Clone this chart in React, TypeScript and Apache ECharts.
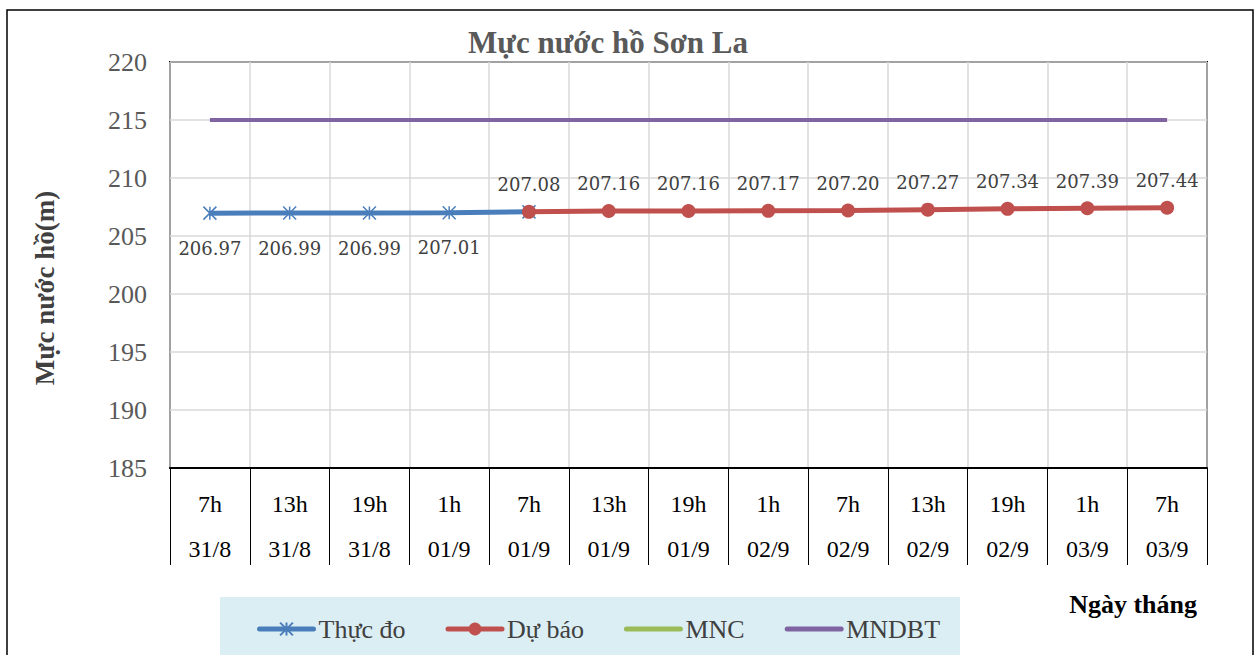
import React, { useEffect, useRef } from "react";
import * as echarts from "echarts";

const hours = ["7h", "13h", "19h", "1h", "7h", "13h", "19h", "1h", "7h", "13h", "19h", "1h", "7h"];
const dates = ["31/8", "31/8", "31/8", "01/9", "01/9", "01/9", "01/9", "02/9", "02/9", "02/9", "02/9", "03/9", "03/9"];
const thucDo = [206.97, 206.99, 206.99, 207.01, 207.08];
const duBao = [207.08, 207.16, 207.16, 207.17, 207.2, 207.27, 207.34, 207.39, 207.44];
const duBaoStart = 4;
const mnc = [175, 175, 175, 175, 175, 175, 175, 175, 175, 175, 175, 175, 175];
const mndbt = [215, 215, 215, 215, 215, 215, 215, 215, 215, 215, 215, 215, 215];

const FONT = "Liberation Serif";
const LABEL_FONT = "DejaVu Serif";
const starPath = "path://M0,0L10,10M10,0L0,10M5,0L5,10M0,0Z";

export default function App() {
  const ref = useRef<HTMLDivElement>(null);
  useEffect(() => {
    if (!ref.current) return;
    const chart = echarts.init(ref.current, null, { renderer: "svg" });
    const categories = hours.map((h, i) => h + "\n" + dates[i]);
    const thucDoData = thucDo.map((v, i) => ({
      value: v,
      label: { show: i < thucDo.length - 1 },
    }));
    const duBaoData = categories.map((_, i) =>
      i >= duBaoStart ? duBao[i - duBaoStart] : "-"
    );
    chart.setOption({
      animation: false,
      textStyle: { fontFamily: FONT },
      title: {
        text: "Mực nước hồ Sơn La",
        left: 603,
        textAlign: "center",
        top: 22,
        textStyle: { fontFamily: FONT, fontSize: 31, fontWeight: "bold", color: "#595959" },
      },
      grid: {
        left: 170,
        top: 62,
        right: 53,
        bottom: 187,
        show: true,
        borderColor: "#000",
        borderWidth: 2,
        containLabel: false,
      },
      legend: {
        left: 252,
        top: 611,
        itemWidth: 54,
        itemHeight: 16,
        itemGap: 40,
        lineStyle: { width: 5, cap: "round" },
        textStyle: { fontFamily: FONT, fontSize: 26, color: "#404040" },
        data: [
          { name: "Thực đo" },
          { name: "Dự báo" },
          { name: "MNC", itemStyle: { opacity: 0 } },
          { name: "MNDBT", itemStyle: { opacity: 0 } },
        ],
      },
      xAxis: {
        type: "category",
        data: categories,
        boundaryGap: true,
        axisLine: { show: true, lineStyle: { color: "#000", width: 2 } },
        axisTick: {
          show: true,
          interval: 0,
          length: 97,
          lineStyle: { color: "#000", width: 1 },
        },
        axisLabel: {
          interval: 0,
          margin: 13,
          fontFamily: FONT,
          fontSize: 24,
          color: "#000",
          lineHeight: 45,
        },
        splitLine: { show: true, interval: 0, lineStyle: { color: "#d9d9d9", width: 1.5 } },
      },
      yAxis: {
        type: "value",
        min: 185,
        max: 220,
        interval: 5,
        axisLine: { show: false },
        axisTick: { show: false },
        axisLabel: { fontFamily: FONT, fontSize: 26, color: "#595959", margin: 23 },
        splitLine: { show: true, lineStyle: { color: "#d9d9d9", width: 1.5 } },
      },
      graphic: [
        {
          type: "rect",
          shape: { x: 7, y: 10, width: 1246, height: 660 },
          style: { fill: "none", stroke: "#000", lineWidth: 1.5 },
          z: -10,
          silent: true,
        },
        {
          type: "rect",
          shape: { x: 220, y: 597, width: 740, height: 62 },
          style: { fill: "#dbeef4" },
          z: -5,
          silent: true,
        },
        {
          type: "text",
          x: 45,
          y: 288,
          rotation: Math.PI / 2,
          style: {
            text: "Mực nước hồ(m)",
            fontFamily: FONT,
            fontSize: 27,
            fontWeight: "bold",
            fill: "#404040",
            align: "center",
            verticalAlign: "middle",
          },
        },
        {
          type: "text",
          x: 1197,
          y: 604,
          style: {
            text: "Ngày tháng",
            fontFamily: FONT,
            fontSize: 26,
            fontWeight: "bold",
            fill: "#000",
            align: "right",
            verticalAlign: "middle",
          },
        },
      ],
      series: [
        {
          name: "MNC",
          type: "line",
          data: mnc,
          clip: true,
          showSymbol: false,
          symbol: "none",
          lineStyle: { color: "#9bbb59", width: 5 },
          itemStyle: { color: "#9bbb59" },
        },
        {
          name: "MNDBT",
          type: "line",
          data: mndbt,
          symbol: "none",
          lineStyle: { color: "#8064a2", width: 4 },
          itemStyle: { color: "#8064a2" },
        },
        {
          name: "Thực đo",
          type: "line",
          data: thucDoData,
          symbol: starPath,
          symbolSize: 13,
          z: 2,
          lineStyle: { color: "#4a7ebb", width: 5 },
          itemStyle: { color: "#4a7ebb", borderColor: "#4a7ebb", borderWidth: 1.5 },
          label: {
            show: true,
            position: "bottom",
            distance: 19,
            fontFamily: LABEL_FONT,
            fontSize: 18,
            color: "#404040",
            formatter: (p: any) => Number(p.value).toFixed(2),
          },
        },
        {
          name: "Dự báo",
          type: "line",
          data: duBaoData,
          symbol: "circle",
          symbolSize: 14,
          lineStyle: { color: "#c0504d", width: 5 },
          itemStyle: { color: "#c0504d" },
          z: 4,
          label: {
            show: true,
            position: "top",
            distance: 11,
            fontFamily: LABEL_FONT,
            fontSize: 18,
            color: "#404040",
            formatter: (p: any) => Number(p.value).toFixed(2),
          },
        },
      ],
    });
    return () => chart.dispose();
  }, []);
  return (
    <div
      ref={ref}
      style={{ position: "fixed", left: 0, top: 0, width: 1260, height: 655, background: "#fff" }}
    />
  );
}
